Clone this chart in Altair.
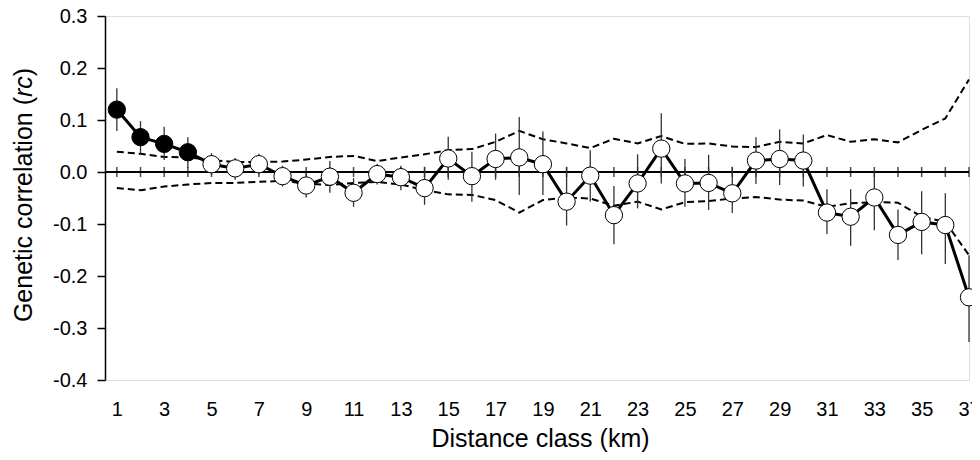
import altair as alt
import pandas as pd

# ---- data ----
distance_class = list(range(1, 38))
rc = [0.120, 0.067, 0.054, 0.038, 0.015, 0.007, 0.015, -0.008, -0.026, -0.009,
      -0.040, -0.004, -0.010, -0.031, 0.026, -0.008, 0.025, 0.028, 0.015, -0.057,
      -0.007, -0.083, -0.022, 0.045, -0.022, -0.021, -0.041, 0.022, 0.025, 0.022,
      -0.078, -0.086, -0.049, -0.121, -0.096, -0.102, -0.241]
err_hi = [0.161, 0.098, 0.087, 0.067, 0.036, 0.027, 0.035, 0.012, -0.003, 0.021,
          -0.012, 0.016, 0.012, 0.010, 0.068, 0.039, 0.074, 0.106, 0.078, 0.010,
          0.042, -0.027, 0.034, 0.113, 0.025, 0.033, 0.010, 0.067, 0.082, 0.072,
          -0.033, -0.033, 0.001, -0.072, -0.037, -0.041, -0.160]
err_lo = [0.079, 0.035, 0.023, 0.007, -0.006, -0.015, -0.005, -0.028, -0.049, -0.040,
          -0.067, -0.024, -0.035, -0.063, -0.015, -0.057, -0.015, -0.044, -0.044, -0.103,
          -0.057, -0.139, -0.070, -0.022, -0.067, -0.073, -0.079, -0.023, -0.025, -0.028,
          -0.119, -0.142, -0.112, -0.169, -0.158, -0.177, -0.327]
ci_upper = [0.039, 0.035, 0.029, 0.028, 0.023, 0.019, 0.019, 0.020, 0.024, 0.029,
            0.031, 0.021, 0.028, 0.034, 0.042, 0.044, 0.058, 0.079, 0.063, 0.055,
            0.046, 0.064, 0.055, 0.069, 0.054, 0.055, 0.049, 0.048, 0.058, 0.055,
            0.071, 0.058, 0.063, 0.057, 0.081, 0.103, 0.178]
ci_lower = [-0.031, -0.035, -0.028, -0.024, -0.021, -0.021, -0.019, -0.017, -0.022, -0.025,
            -0.021, -0.019, -0.024, -0.035, -0.043, -0.044, -0.054, -0.078, -0.054, -0.049,
            -0.051, -0.065, -0.057, -0.072, -0.058, -0.056, -0.051, -0.048, -0.053, -0.055,
            -0.067, -0.060, -0.058, -0.059, -0.086, -0.096, -0.160]
significant = [True] * 4 + [False] * 33
x_tick_labels = list(range(1, 38, 2))
y_tick_values = [-0.4, -0.3, -0.2, -0.1, 0.0, 0.1, 0.2, 0.3]

df = pd.DataFrame({
    "cls": distance_class, "rc": rc, "hi": err_hi, "lo": err_lo,
    "ciU": ci_upper, "ciL": ci_lower, "sig": significant,
})

FONT = "Liberation Sans"
W = 864

xs = alt.Scale(domain=[0.5, 37], nice=False, zero=False)
ys = alt.Scale(domain=[-0.4, 0.3], nice=False, zero=False)

X = alt.X("cls:Q", scale=xs, title="Distance class (km)",
          axis=alt.Axis(values=x_tick_labels, ticks=False, domain=False, grid=False,
                        labelFontSize=20, labelFont=FONT, labelColor="black",
                        labelPadding=19, labelFlush=False,
                        titleFont=FONT, titleFontSize=25, titleFontWeight="normal",
                        titleColor="black", titleX=435, titleY=66,
                        titleBaseline="alphabetic", titleAlign="center"))
Y_AX = alt.Axis(values=y_tick_values, grid=False, tickSize=8, tickWidth=1.5,
                tickColor="black", domainColor="black", domainWidth=1.5,
                labelFontSize=20, labelFont=FONT, labelColor="black", labelPadding=10,
                labelExpr="(datum.value < -0.00001 ? '-' : '') + format(abs(datum.value), '.1f')",
                title=None)


def Y(field):
    return alt.Y(field, scale=ys, axis=Y_AX)


base = alt.Chart(df)

zero_line = alt.Chart(pd.DataFrame({"z": [0.0]})).mark_rule(
    color="black", strokeWidth=2).encode(y=alt.Y("z:Q", scale=ys, axis=Y_AX))

ticks = base.mark_tick(color="black", size=10, thickness=1.5, orient="vertical").encode(
    x=X, y=alt.Y("z:Q", scale=ys, axis=Y_AX)).transform_calculate(z="0")

dashed = base.transform_fold(["ciU", "ciL"], as_=["series", "val"]).mark_line(
    color="black", strokeWidth=2, strokeDash=[7, 4]).encode(
    x=X, y=Y("val:Q"), detail="series:N")

errbars = base.mark_rule(color="#333333", strokeWidth=1.3).encode(
    x=X, y=Y("lo:Q"), y2="hi:Q")

line = base.mark_line(color="black", strokeWidth=3).encode(x=X, y=Y("rc:Q"))

points = base.mark_point(shape="circle", size=300, filled=True, stroke="black",
                         strokeWidth=1, opacity=1).encode(
    x=X, y=Y("rc:Q"),
    fill=alt.condition("datum.sig", alt.value("black"), alt.value("white")))

t1 = alt.Chart(pd.DataFrame({"t": ["Genetic correlation ("]})).mark_text(
    angle=270, align="right", baseline="alphabetic", fontSize=25, font=FONT,
    color="black").encode(text="t:N", x=alt.value(-73), y=alt.value(81))
t2 = alt.Chart(pd.DataFrame({"t": ["rc"]})).mark_text(
    angle=270, align="left", baseline="alphabetic", fontSize=25, font=FONT,
    fontStyle="italic", color="black").encode(text="t:N", x=alt.value(-73), y=alt.value(81))
t3 = alt.Chart(pd.DataFrame({"t": [")"]})).mark_text(
    angle=270, align="left", baseline="alphabetic", fontSize=25, font=FONT,
    color="black").encode(text="t:N", x=alt.value(-73), y=alt.value(60.2))

chart = alt.layer(zero_line, ticks, dashed, errbars, line, points, t1, t2, t3).properties(
    width=W, height=364,
    autosize=alt.AutoSizeParams(type="none"),
    padding={"left": 97, "top": 8, "right": 3, "bottom": 72},
).configure_view(stroke=None).configure(background="white")

chart.save("out.html", embed_options={"renderer": "svg", "actions": False})
